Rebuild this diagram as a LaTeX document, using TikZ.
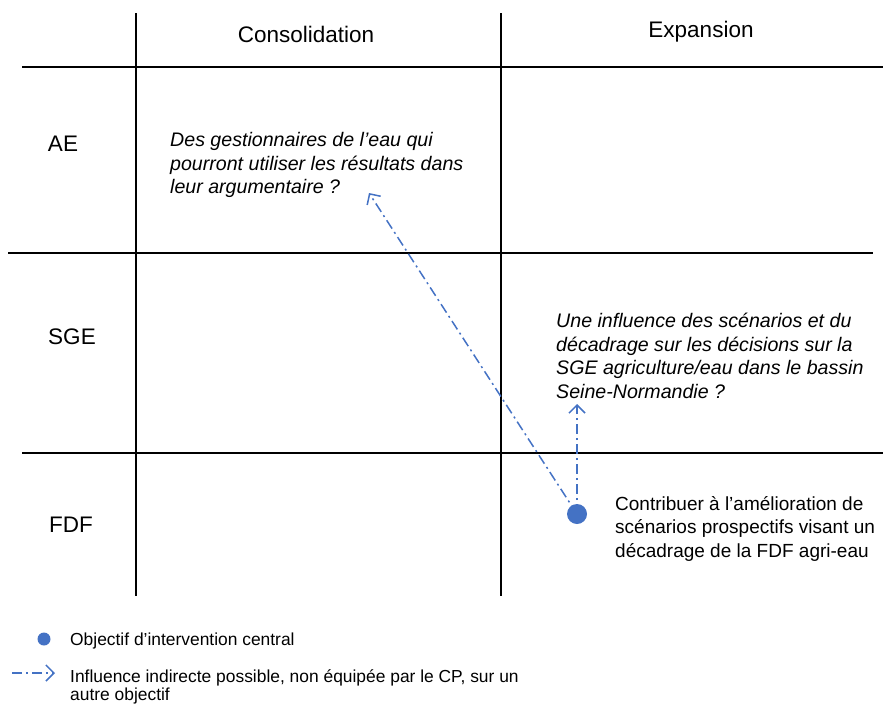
\documentclass[tikz,border=0pt]{standalone}
\usepackage{fontspec}
\setmainfont{Liberation Sans}
\usetikzlibrary{arrows.meta}
\definecolor{cpblue}{HTML}{4472C4}
\begin{document}
\begin{tikzpicture}[x=1pt,y=-1pt,
  grid/.style={draw=black,line width=1.5pt},
  head/.style={font=\fontsize{22.5}{26}\selectfont,inner sep=0pt},
  lbl/.style={font=\fontsize{22.5}{26}\selectfont,inner sep=0pt},
  body/.style={font=\fontsize{19}{23.6}\selectfont,align=left,inner sep=0pt,anchor=north west},
  ibody/.style={body,font=\fontsize{19.6}{23.6}\selectfont\itshape},
  legtxt/.style={font=\fontsize{17.4}{18.5}\selectfont,align=left,inner sep=0pt,anchor=north west},
  infl/.style={draw=cpblue,line width=1.5pt,dash pattern=on 10pt off 4pt on 2pt off 4pt,
    -{Straight Barb[length=8pt,width=16pt,line width=1.5pt]}},
  central/.style={circle,fill=cpblue,inner sep=0pt},
]
\useasboundingbox (0,0) rectangle (883,704);
% grid
\draw[grid] (22,67) -- (883,67);
\draw[grid] (8,253) -- (873,253);
\draw[grid] (22,453) -- (883,453);
\draw[grid] (136,13) -- (136,596);
\draw[grid] (501,13) -- (501,596);
% headers and row labels
\node[head] (hcons) at (306,34) {Consolidation};
\node[head] (hexp) at (701,32) {Expansion};
\node[lbl] (lae) at (63,144) {AE};
\node[lbl] (lsge) at (72,337) {SGE};
\node[lbl] (lfdf) at (71,525) {FDF};
% texts
\node[ibody] (tae) at (170,132) {Des gestionnaires de l’eau qui\\pourront utiliser les résultats dans\\leur argumentaire ?};
\node[ibody] (tsge) at (556,313) {Une influence des scénarios et du\\décadrage sur les décisions sur la\\SGE agriculture/eau dans le bassin\\Seine-Normandie ?};
\node[body] (tfdf) at (615,496) {Contribuer à l’amélioration de\\scénarios prospectifs visant un\\décadrage de la FDF agri-eau};
% central objective and influences
\node[central,minimum size=20pt] (dot) at (577,514) {};
\coordinate (tipae) at (369,193);
\coordinate (tipsge) at (577,404);
\draw[infl] (dot.center) -- (tipsge);
\draw[infl] (dot.center) -- (tipae);
% legend
\node[central,minimum size=13pt] (ldot) at (44,639) {};
\node[legtxt] (ltxt1) at (70,633) {Objectif d’intervention central};
\coordinate (la1) at (12,673);
\coordinate (la2) at (55,673);
\draw[infl] (la1) -- (la2);
\node[legtxt] (ltxt2) at (70,669) {Influence indirecte possible, non équipée par le CP, sur un\\autre objectif};
\end{tikzpicture}
\end{document}
